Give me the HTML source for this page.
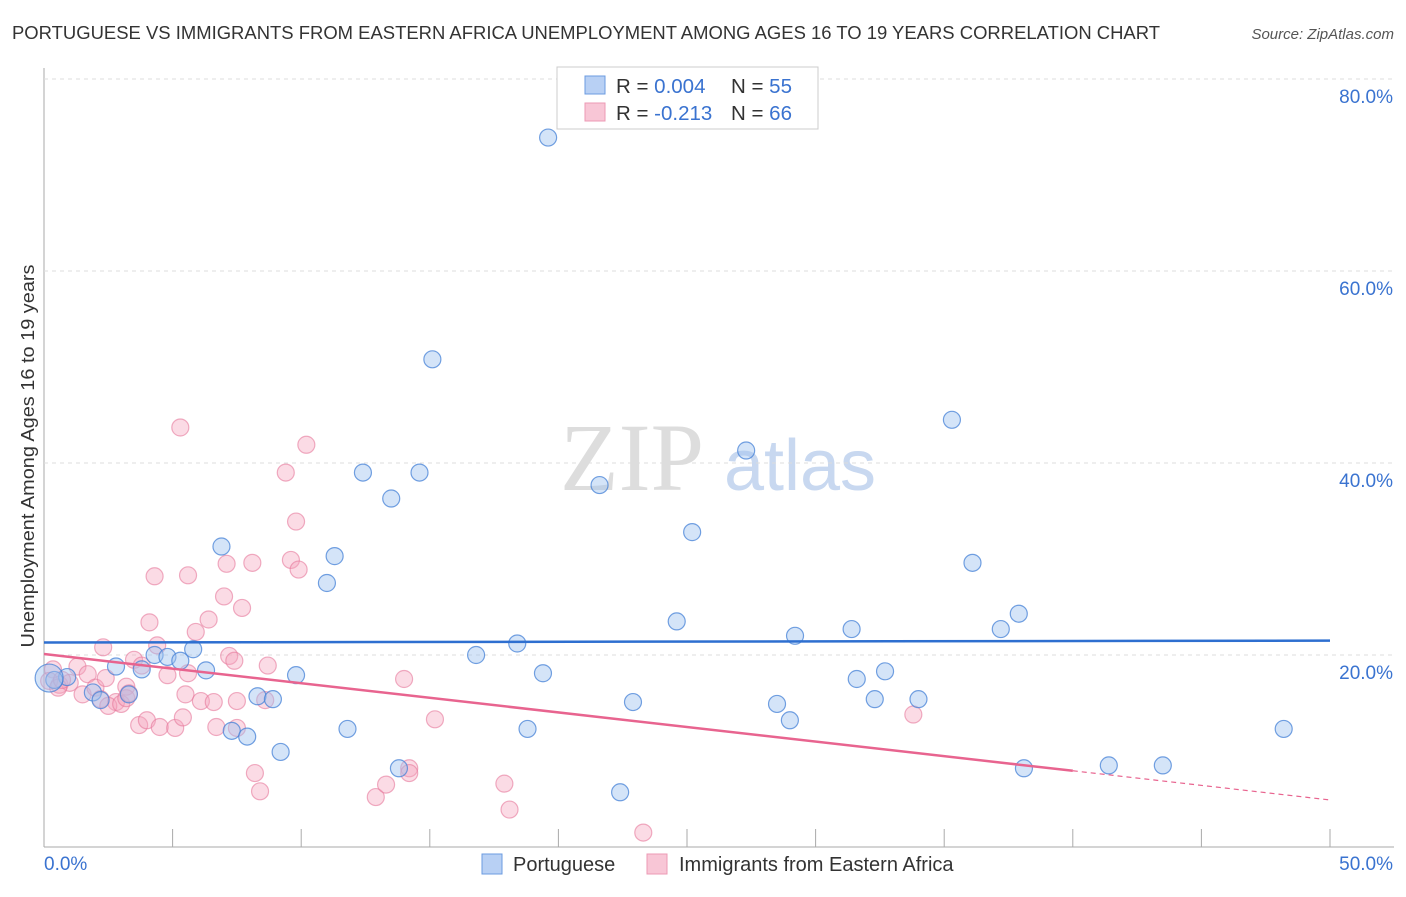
<!DOCTYPE html>
<html><head><meta charset="utf-8"><style>
body{margin:0;background:#fff;font-family:"Liberation Sans",sans-serif;}
</style></head><body>
<svg id="c" width="1406" height="892" xmlns="http://www.w3.org/2000/svg">
<text x="12" y="39" font-size="18" fill="#333" textLength="1148" lengthAdjust="spacingAndGlyphs">PORTUGUESE VS IMMIGRANTS FROM EASTERN AFRICA UNEMPLOYMENT AMONG AGES 16 TO 19 YEARS CORRELATION CHART</text>
<text x="1394" y="39" font-size="15" fill="#555" font-style="italic" text-anchor="end">Source: ZipAtlas.com</text>
<text x="34" y="456" font-size="18.5" fill="#333" text-anchor="middle" textLength="383" lengthAdjust="spacingAndGlyphs" transform="rotate(-90 34 456)">Unemployment Among Ages 16 to 19 years</text>
<g><text x="632" y="490" font-size="96" fill="#ddd" font-family="Liberation Serif,serif" text-anchor="middle">ZIP</text><text x="800" y="490" font-size="72" fill="#c8d8f0" text-anchor="middle">atlas</text></g>
<g id="grid"></g><g id="pts"></g><g id="trend"></g>
<g>
<rect x="557" y="67" width="261" height="62" fill="#fff" stroke="#ccc"/>
<rect x="585" y="76" width="20" height="18" fill="#b8d0f4" stroke="#6b9be0"/>
<rect x="585" y="103" width="20" height="18" fill="#f8c6d6" stroke="#ec9ab4"/>
<text x="616" y="93" font-size="20.5" fill="#333">R = <tspan fill="#3a73d0">0.004</tspan><tspan x="731">N = </tspan><tspan fill="#3a73d0">55</tspan></text>
<text x="616" y="120" font-size="20.5" fill="#333">R = <tspan fill="#3a73d0">-0.213</tspan><tspan x="731">N = </tspan><tspan fill="#3a73d0">66</tspan></text>
</g>
<g>
<rect x="482" y="854" width="20" height="20" fill="#b8d0f4" stroke="#6b9be0"/>
<text x="513" y="871" font-size="20" fill="#333">Portuguese</text>
<rect x="647" y="854" width="20" height="20" fill="#f8c6d6" stroke="#ec9ab4"/>
<text x="679" y="871" font-size="20" fill="#333">Immigrants from Eastern Africa</text>
</g>
</svg>
<script>
const yTicks=[20,40,60,80];
const xTickLabels=["0.0%","50.0%"];
const blueX=[19.6,15.1,35.3,27.3,12.4,14.6,21.6,13.5,25.2,6.9,11.3,36.1,11.0,37.9,24.6,37.2,31.4,29.2,18.4,5.8,4.3,4.8,5.3,16.8,2.8,3.8,6.3,32.7,9.8,19.4,31.6,0.9,0.4,1.9,3.3,2.2,8.3,8.9,32.3,34.0,22.9,28.5,29.0,11.8,18.8,48.2,7.3,7.9,9.2,13.8,38.1,41.4,43.5,22.4,0.2];
const blueY=[73.9,50.8,44.5,41.3,39.0,39.0,37.7,36.3,32.8,31.3,30.3,29.6,27.5,24.3,23.5,22.7,22.7,22.0,21.2,20.6,20.0,19.8,19.4,20.0,18.8,18.5,18.4,18.3,17.9,18.1,17.5,17.7,17.4,16.1,15.9,15.3,15.7,15.4,15.4,15.4,15.1,14.9,13.2,12.3,12.3,12.3,12.1,11.5,9.9,8.2,8.2,8.5,8.5,5.7,17.6];
const pinkX=[5.3,10.2,9.4,9.8,4.3,5.6,9.6,7.1,8.1,9.9,7.0,7.7,4.1,6.4,5.9,2.3,4.4,7.2,7.4,8.7,5.6,4.8,1.3,1.7,3.5,3.8,14.0,0.35,0.6,1.0,1.5,2.0,2.2,2.8,2.5,3.0,3.2,2.4,5.5,6.1,6.6,3.2,3.3,3.7,4.0,4.5,5.1,5.4,6.7,7.5,8.6,7.5,8.2,8.4,12.9,13.3,14.2,14.2,15.2,17.9,18.1,23.3,33.8,0.2,0.55,0.7];
const pinkY=[43.7,41.9,39.0,33.9,28.2,28.3,29.9,29.5,29.6,28.9,26.1,24.9,23.4,23.7,22.4,20.8,21.0,19.9,19.4,18.9,18.1,17.9,18.8,18.0,19.5,18.9,17.5,18.5,16.9,17.1,15.9,16.6,15.4,15.1,14.7,14.9,16.7,17.6,15.9,15.2,15.1,15.5,16.0,12.7,13.2,12.5,12.4,13.5,12.5,12.4,15.3,15.2,7.7,5.8,5.2,6.5,8.2,7.7,13.3,6.6,3.9,1.5,13.8,17.3,16.6,17.4];
const blueTrend=[21.3,21.5];
const pinkTrend=[20.1,4.9];
const pinkSolidEnd=40;
const X=v=>44+v*25.72, Y=v=>847-v*9.6;
const NS="http://www.w3.org/2000/svg";
function mk(t,a,p){const e=document.createElementNS(NS,t);for(const k in a)e.setAttribute(k,a[k]);p.appendChild(e);return e;}
const g=document.getElementById('grid');
const ya=mk('line',{x1:44,y1:68,x2:44,y2:847,stroke:'#aaa'},g);


const xa=mk('line',{x1:44,y1:847,x2:1394,y2:847,stroke:'#aaa'},g);


yTicks.forEach(t=>{
 const l=mk('line',{x1:44,y1:Y(t),x2:1394,y2:Y(t),stroke:'#ddd','stroke-dasharray':'4 4'},g);
 
 
 const tx=mk('text',{x:1393,y:Y(t)+24,'font-size':19,fill:'#3a73d0','text-anchor':'end'},g);tx.textContent=t.toFixed(1)+'%';
 
 
});
for(let i=0;i<=10;i++){const tk=mk('line',{x1:44+i*128.6,y1:829,x2:44+i*128.6,y2:847,stroke:'#aaa'},g);
 
 }
xTickLabels.forEach((s,i)=>{const tx=mk('text',{x:i?1393:44,y:870,'font-size':19,fill:'#3a73d0','text-anchor':i?'end':'start'},g);tx.textContent=s;
 
 });
const P=document.getElementById('pts');
pinkX.forEach((x,i)=>{const c=mk('circle',{cx:X(x),cy:Y(pinkY[i]),r:8.5,fill:'rgba(244,164,190,0.4)',stroke:'rgba(230,120,155,0.6)','stroke-width':1.2},P);
 
 });
blueX.forEach((x,i)=>{const c=mk('circle',{cx:X(x),cy:Y(blueY[i]),r:i==blueX.length-1?14:8.5,fill:'rgba(160,195,240,0.45)',stroke:'rgba(70,130,215,0.75)','stroke-width':1.2},P);
 
 });
const T=document.getElementById('trend');
const bl=mk('line',{x1:X(0),y1:Y(blueTrend[0]),x2:X(50),y2:Y(blueTrend[1]),stroke:'#2e6fd0','stroke-width':2.5},T);


const pv=x=>pinkTrend[0]+(pinkTrend[1]-pinkTrend[0])*x/50;
const pl=mk('line',{x1:X(0),y1:Y(pv(0)),x2:X(pinkSolidEnd),y2:Y(pv(pinkSolidEnd)),stroke:'#e8648f','stroke-width':2.5},T);


const pd=mk('line',{x1:X(pinkSolidEnd),y1:Y(pv(pinkSolidEnd)),x2:X(50),y2:Y(pv(50)),stroke:'#e8648f','stroke-width':1.2,'stroke-dasharray':'5 4'},T);


</script>
</body></html>
